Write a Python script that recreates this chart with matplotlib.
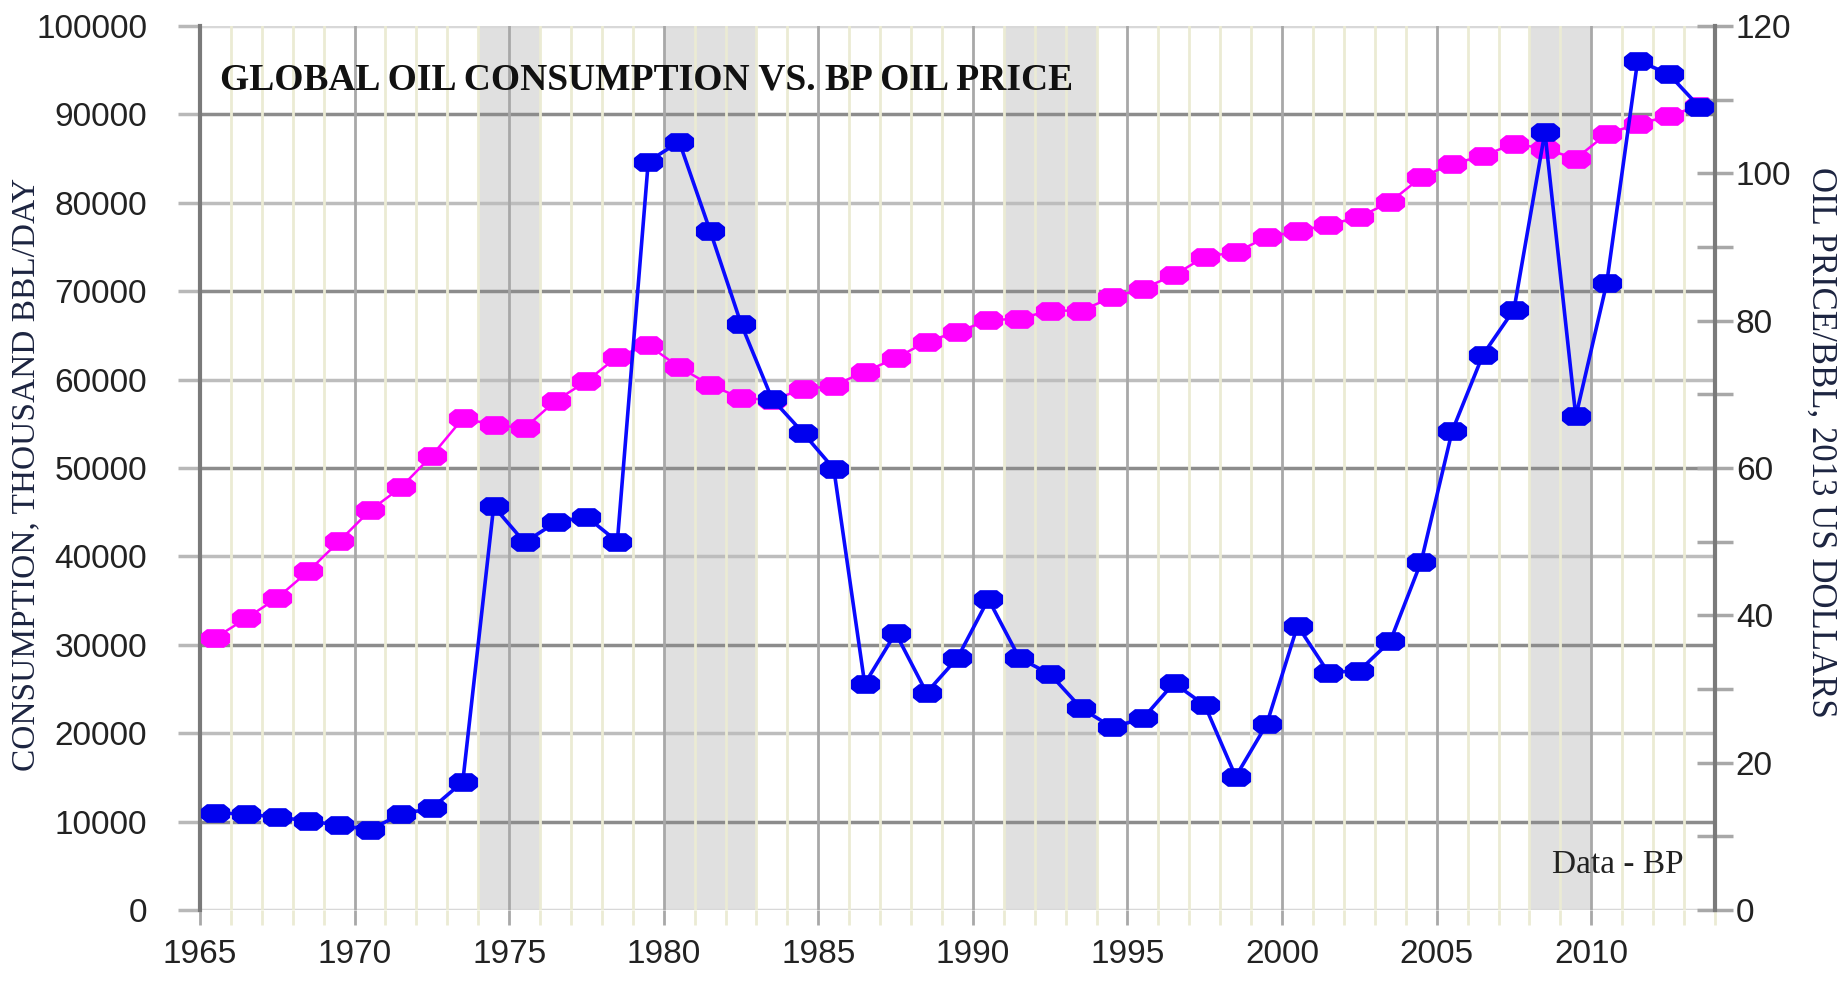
import numpy as np
import matplotlib.pyplot as plt
from matplotlib.path import Path
from matplotlib.ticker import MultipleLocator

# data (points sit in the middle of each year)
years = list(range(1965, 2014))
consumption = [30800, 33000, 35300, 38300, 41700, 45200, 47800, 51400, 55600, 54900,
               54500, 57600, 59800, 62600, 63900, 61400, 59400, 57900, 57700, 58900,
               59300, 60900, 62400, 64300, 65400, 66700, 66900, 67800, 67800, 69300,
               70300, 71800, 73900, 74400, 76100, 76800, 77500, 78400, 80100, 82900,
               84400, 85300, 86700, 86100, 85000, 87800, 88900, 89800, 91000]
price = [13.2, 13.0, 12.6, 12.1, 11.5, 10.9, 13.0, 13.8, 17.4, 54.8,
         49.9, 52.6, 53.4, 50.0, 101.6, 104.3, 92.2, 79.6, 69.4, 64.8,
         59.9, 30.7, 37.6, 29.5, 34.2, 42.2, 34.2, 32.0, 27.4, 24.8,
         26.0, 30.8, 27.8, 18.1, 25.2, 38.6, 32.2, 32.5, 36.5, 47.3,
         65.0, 75.4, 81.5, 105.6, 67.0, 85.1, 115.3, 113.5, 109.0]
recessions = [(1974, 1976), (1980, 1983), (1991, 1994), (2008, 2010)]

x = np.array(years) + 0.5

# wide blob marker like the original
blob = Path([(-1, -0.3), (-1, 0.3), (-0.6, 0.62), (0.6, 0.62), (1, 0.3),
             (1, -0.3), (0.6, -0.62), (-0.6, -0.62), (-1, -0.3)],
            [Path.MOVETO] + [Path.LINETO] * 7 + [Path.CLOSEPOLY])

fig = plt.figure(figsize=(18.48, 9.81), dpi=100)
ax = fig.add_axes([0.1082, 0.0724, 0.8198, 0.9011])
ax2 = ax.twinx()

ax.set_xlim(1965, 2014)
ax.set_ylim(0, 100000)
ax2.set_ylim(0, 120)

for a, b in recessions:
    ax.axvspan(a, b, color='#e0e0e0', lw=0, zorder=0.1)

ax.set_axisbelow(True)
ax.xaxis.set_major_locator(MultipleLocator(5))
ax.xaxis.set_minor_locator(MultipleLocator(1))
ax.grid(which='minor', axis='x', color='#ebebd4', lw=2)
ax.grid(which='major', axis='x', color='#a8a8a8', lw=2)

ax.set_yticks(range(0, 100001, 10000))
for v in range(0, 100001, 10000):
    if v in (0, 100000):
        c = '#d8d8d8'
    elif (v // 10000) % 2 == 1:
        c = '#8c8c8c'
    else:
        c = '#bdbdbd'
    ax.axhline(v, color=c, lw=2.5, zorder=0.5)

ax.tick_params(axis='x', which='major', length=11, width=2, color='#a8a8a8',
               labelsize=24, pad=10, labelcolor='#222222')
ax.tick_params(axis='x', which='minor', length=11, width=2, color='#ebebd4')
ax.tick_params(axis='y', length=16, width=2.5, color='#b8b8b8', labelsize=24,
               pad=22, labelcolor='#222222')
for f in ax.get_xticklabels() + ax.get_yticklabels():
    f.set_family('Liberation Sans')

for s in ['top', 'right', 'bottom']:
    ax.spines[s].set_visible(False)
ax.spines['left'].set_color('#7a7a7a')
ax.spines['left'].set_linewidth(3)
for s in ['top', 'left', 'bottom']:
    ax2.spines[s].set_visible(False)
ax2.spines['right'].set_color('#7a7a7a')
ax2.spines['right'].set_linewidth(3)

ax2.set_yticks(range(0, 121, 20))
ax2.yaxis.set_minor_locator(MultipleLocator(10))
ax2.tick_params(axis='y', which='both', direction='inout', length=26, width=2.5,
                color='#a8a8a8', labelsize=24, pad=2, labelcolor='#222222')
for f in ax2.get_yticklabels():
    f.set_family('Liberation Sans')

ax.plot(x, consumption, color='#ff00ff', lw=1.8, marker=blob, ms=20,
        mec='#ff00ff', mfc='#ff00ff', zorder=3)
ax2.plot(x, price, color='#0a0aff', lw=2.6, marker=blob, ms=20,
         mec='#0000ee', mfc='#0000ee', zorder=3)

ax.text(0.0132, 0.939, 'GLOBAL OIL CONSUMPTION VS. BP OIL PRICE', transform=ax.transAxes,
        family='Liberation Serif', weight='bold', fontsize=27, ha='left', va='center',
        color='#111111', zorder=5)
ax.text(0.936, 0.051, 'Data - BP', transform=ax.transAxes, family='Liberation Serif',
        fontsize=24, ha='center', va='center', color='#222222', zorder=5)

fig.text(26 / 1848, 1 - 474 / 981, 'CONSUMPTION, THOUSAND BBL/DAY', rotation=90,
         family='Liberation Serif', fontsize=24, ha='center', va='center', color='#1c2440')
fig.text(1821 / 1848, 1 - 442 / 981, 'OIL PRICE/BBL, 2013 US DOLLARS', rotation=-90,
         family='Liberation Serif', fontsize=25, ha='center', va='center', color='#1c2440')

fig.savefig('out.png', dpi=100)
